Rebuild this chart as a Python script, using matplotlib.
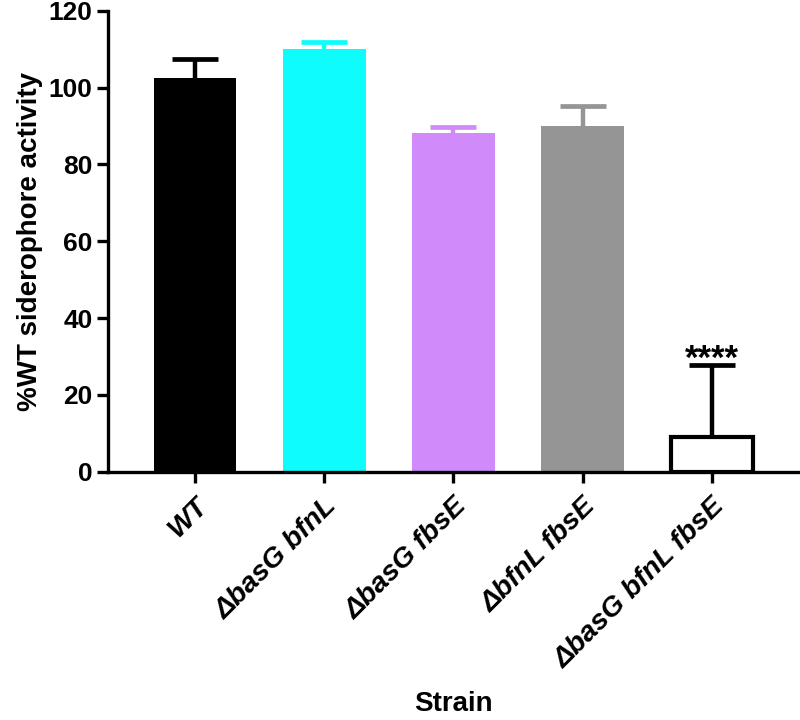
import numpy as np
import matplotlib
matplotlib.use("Agg")
import matplotlib.pyplot as plt

plt.rcParams['font.family'] = ['Liberation Sans', 'DejaVu Sans']

strains = ["WT", "ΔbasG bfnL", "ΔbasG fbsE", "ΔbfnL fbsE", "ΔbasG bfnL fbsE"]
activity = [102.4, 110.0, 88.1, 90.0, 9.0]
err_up = [5.0, 2.0, 1.6, 5.2, 18.7]
fill_colors = ["#000000", "#0ffcfc", "#d08afa", "#959595", "#ffffff"]
err_colors = ["#000000", "#0ffcfc", "#d08afa", "#959595", "#000000"]
signif = ["", "", "", "", "****"]

fig = plt.figure(figsize=(8, 7.2), dpi=100)
ax = fig.add_axes([0.135, 0.345, 0.865, 0.64])

x = np.arange(len(strains))
for i in range(len(strains)):
    open_bar = fill_colors[i] == "#ffffff"
    ax.bar(x[i], activity[i], width=0.64, color=fill_colors[i],
           edgecolor="#000000" if open_bar else fill_colors[i],
           linewidth=3 if open_bar else 0, zorder=2)
    # upper error bar only (stem + cap)
    top = activity[i] + err_up[i]
    ax.plot([x[i], x[i]], [activity[i], top], color=err_colors[i], lw=3.2,
            solid_capstyle='butt', zorder=1)
    ax.plot([x[i]], [top], marker='_', markersize=33, mew=3.4,
            color=err_colors[i], zorder=1)
    if signif[i]:
        ax.text(x[i], top - 1.0, signif[i], ha='center', va='baseline',
                fontsize=25, fontweight='bold')

ax.set_xlim(-0.672, 4.68)
ax.set_ylim(0, 120)
ax.set_yticks(np.arange(0, 121, 20))
ax.set_xticks(x)
ax.set_xticklabels(strains, rotation=45, ha='right', rotation_mode='anchor',
                   fontsize=20.5, fontweight='bold', fontstyle='italic')
for lab in ax.get_yticklabels():
    lab.set_fontsize(19)
    lab.set_fontweight('bold')

for s in ['top', 'right']:
    ax.spines[s].set_visible(False)
for s in ['left', 'bottom']:
    ax.spines[s].set_linewidth(2.4)
ax.tick_params(axis='both', width=2.4, length=8, direction='out')
ax.tick_params(axis='x', pad=7)
ax.tick_params(axis='y', pad=3)

ax.set_ylabel("%WT siderophore activity", fontsize=20, fontweight='bold', labelpad=4)
fig.text(0.567, 0.004, "Strain", ha='center', va='bottom', fontsize=20, fontweight='bold')

fig.savefig("out.png", dpi=100)
